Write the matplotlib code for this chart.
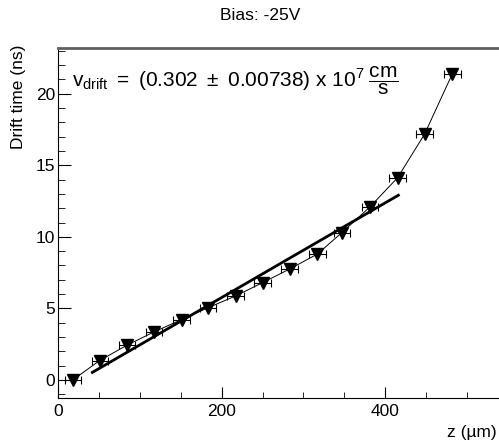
import numpy as np
import matplotlib
matplotlib.use("Agg")
import matplotlib.pyplot as plt
from matplotlib.ticker import MultipleLocator

plt.rcParams['font.family'] = ['Liberation Sans', 'DejaVu Sans']
plt.rcParams['mathtext.fontset'] = 'custom'
plt.rcParams['mathtext.rm'] = 'Liberation Sans'
plt.rcParams['mathtext.it'] = 'Liberation Sans:italic'
plt.rcParams['mathtext.sf'] = 'Liberation Sans'

# measured points (z in um, drift time in ns)
z = [18, 51, 84, 117, 151, 183, 217, 250, 283, 317, 347, 381, 415, 448, 482]
t = [0.0, 1.36, 2.42, 3.35, 4.22, 5.04, 5.87, 6.8, 7.75, 8.8, 10.3, 12.08, 14.13, 17.18, 21.4]
z_err = [10] * len(z)

# linear fit t = a + b*z
fit_a = -0.86
fit_b = 0.0331
fit_range = [42, 416]

fig = plt.figure(figsize=(4.99, 4.42), dpi=100)
ax = fig.add_axes([58 / 499, 44 / 442, 450 / 499, 350 / 442])

ax.errorbar(z, t, xerr=z_err, fmt='none', ecolor='black', elinewidth=0.8,
            capsize=3, capthick=0.8, zorder=2)
ax.plot(z, t, color='black', lw=0.7, marker='v', markersize=8,
        markerfacecolor='black', markeredgecolor='black', zorder=3)

zf = np.linspace(fit_range[0], fit_range[1], 50)
ax.plot(zf, fit_a + fit_b * zf, color='black', lw=2.0, zorder=4)

ax.set_xlim(0, 550)
ax.set_ylim(-1.26, 23.2)
ax.xaxis.set_major_locator(MultipleLocator(200))
ax.xaxis.set_minor_locator(MultipleLocator(50))
ax.yaxis.set_major_locator(MultipleLocator(5))
ax.yaxis.set_minor_locator(MultipleLocator(1))
ax.tick_params(axis='both', which='both', direction='in', labelsize=12.5,
               top=False, right=False)
ax.tick_params(axis='y', which='major', length=9.5, pad=2)
ax.tick_params(axis='y', which='minor', length=5)
ax.tick_params(axis='x', which='major', length=8, pad=4)
ax.tick_params(axis='x', which='minor', length=4)

ax.spines['right'].set_visible(False)
ax.spines['top'].set_color('#606060')
ax.spines['top'].set_linewidth(2)

fig.text(260 / 499, 1 - 16 / 442, 'Bias: -25V', ha='center', va='center', fontsize=12.5)
fig.text(19 / 499, 1 - 45 / 442, 'Drift time (ns)', rotation=90, ha='center', va='top',
         fontsize=12.5)
fig.text(497 / 499, 1 - 437 / 442, 'z (\u00b5m)', ha='right', va='baseline', fontsize=12.5)
fig.text(72 / 499, 1 - 87 / 442,
         r'$\mathrm{v_{drift}\ =\ (0.302\ \pm\ 0.00738)\ x\ 10^{7}\;\dfrac{cm}{s}}$',
         ha='left', va='baseline', fontsize=15)

fig.savefig('out.png', dpi=100)
